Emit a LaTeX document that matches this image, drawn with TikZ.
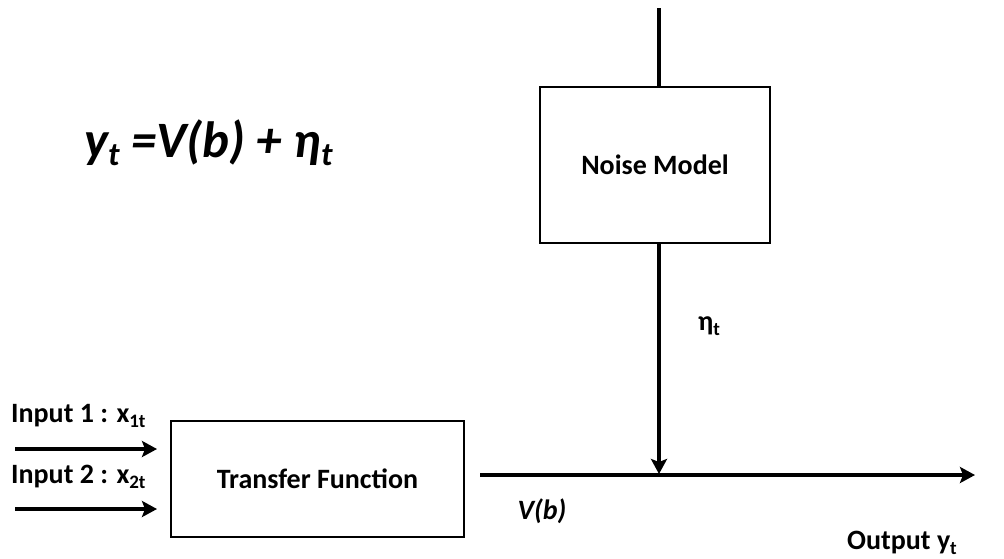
\documentclass[tikz,border=0pt]{standalone}
\usepackage{fontspec}
\setmainfont{Carlito}
\usetikzlibrary{arrows.meta}
\newcommand{\lowsub}[1]{\raisebox{-0.35ex}{\fontsize{19}{20}\selectfont #1}}
\begin{document}
\begin{tikzpicture}[x=1pt,y=-1pt,
  block/.style={draw,line width=2.4pt,minimum width=293pt,minimum height=116pt,inner sep=0pt,font=\fontsize{28}{32}\selectfont\bfseries},
  nblock/.style={draw,line width=2.4pt,minimum width=230pt,minimum height=156pt,inner sep=0pt,font=\fontsize{28}{32}\selectfont\bfseries},
  wire/.style={line width=3.6pt},
  arr/.style={line width=3.6pt,-{Stealth[length=15pt,width=16pt,inset=3pt]}},
  lbl/.style={inner sep=0pt,font=\fontsize{28}{32}\selectfont\bfseries},
  eq/.style={inner sep=0pt,font=\fontsize{51}{55}\selectfont\bfseries\itshape}]
\useasboundingbox (0,0) rectangle (1004,558);
\node[block] (tf) at (317.5,479) {Transfer Function};
\node[nblock] (nm) at (655,165) {Noise Model};
\coordinate (top) at (659,8);
\coordinate (i1s) at (15,449);
\coordinate (i2s) at (15,509);
\coordinate (i1e) at (157,449);
\coordinate (i2e) at (157,509);
\coordinate (os) at (480,475);
\coordinate (oe) at (975,475);
\coordinate (nj) at (659,474);
\draw[wire] (top) -- (top |- nm.north);
\draw[arr] (top |- nm.south) -- (nj);
\draw[arr] (os) -- (oe);
\draw[arr] (i1s) -- (i1e);
\draw[arr] (i2s) -- (i2e);
\node[lbl,anchor=west] (in1) at (11,416) {Input 1 : x\lowsub{1t}};
\node[lbl,anchor=west] (in2) at (11,477) {Input 2 : x\lowsub{2t}};
\node[lbl] (eta) at (709,326) {η\lowsub{t}};
\node[lbl] (vb) at (542,511) {\itshape V(b)};
\node[lbl] (out) at (902,543) {Output y\lowsub{t}};
\node[eq,anchor=west] (eqn) at (84,143) {y\raisebox{-0.3ex}{\fontsize{33}{35}\selectfont t} =V(b) + η\raisebox{-0.3ex}{\fontsize{33}{35}\selectfont t}};
\end{tikzpicture}
\end{document}
